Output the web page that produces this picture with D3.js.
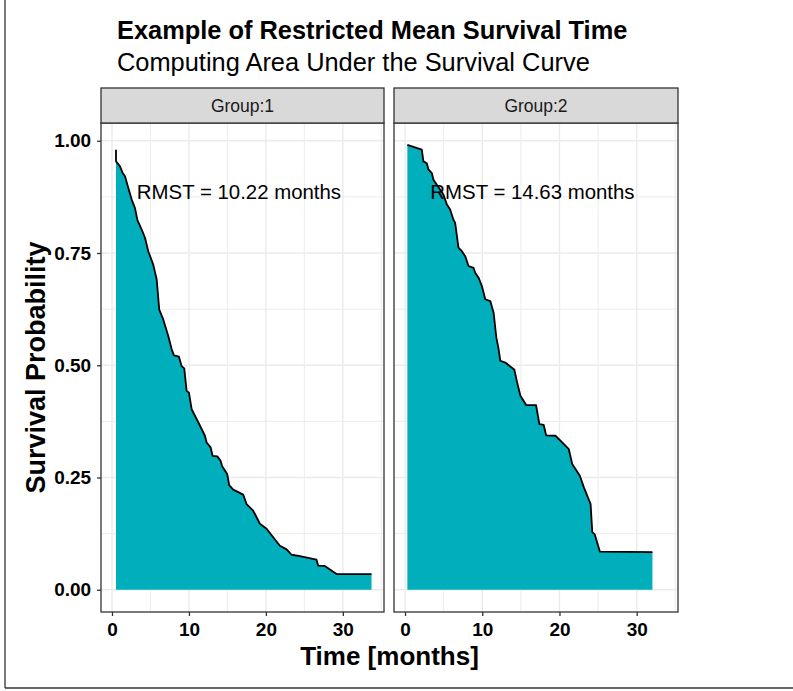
<!DOCTYPE html>
<html>
<head>
<meta charset="utf-8">
<script src="https://cdn.jsdelivr.net/npm/d3@7"></script>
<style>
  html, body { margin: 0; padding: 0; background: #fff; }
  svg { display: block; font-family: "Liberation Sans", Arial, Helvetica, sans-serif; }
</style>
</head>
<body>
<svg id="chart" width="793" height="691"></svg>
<script>
// ---- data ----
const groups = ["Group:1", "Group:2"];
const rmstLabels = ["RMST = 10.22 months", "RMST = 14.63 months"];
const timeG1 = [0.52,0.52,1.04,1.39,1.69,2.12,2.56,2.99,3.29,3.86,4.29,4.71,5.36,5.81,6.14,6.66,7.31,7.75,8.05,8.70,9.05,9.39,9.70,10.0,10.35,11.21,12.08,12.30,12.82,13.08,13.68,14.12,14.32,14.97,15.23,15.75,17.05,17.49,18.35,19.22,20.09,20.95,21.82,22.69,23.34,24.42,26.58,26.79,27.66,29.18,33.73];
const survG1 = [0.980,0.954,0.943,0.928,0.921,0.895,0.869,0.850,0.824,0.802,0.784,0.754,0.724,0.691,0.624,0.602,0.565,0.536,0.522,0.519,0.498,0.493,0.443,0.439,0.402,0.373,0.343,0.328,0.317,0.298,0.297,0.287,0.275,0.258,0.233,0.223,0.212,0.191,0.176,0.147,0.136,0.117,0.098,0.090,0.078,0.075,0.067,0.054,0.053,0.035,0.035];
const timeG2 = [0.30,2.17,2.38,2.82,3.03,3.47,3.68,4.97,5.42,5.84,6.27,6.49,6.92,7.36,7.79,8.22,8.87,9.09,9.52,9.96,10.39,11.04,11.47,11.82,12.12,12.34,12.99,14.16,14.51,14.94,15.71,16.97,17.40,17.96,18.27,19.48,20.35,21.21,21.65,22.64,23.16,24.03,24.25,24.55,25.23,32.04];
const survG2 = [0.991,0.980,0.954,0.950,0.936,0.928,0.913,0.880,0.858,0.847,0.824,0.817,0.762,0.754,0.743,0.721,0.717,0.706,0.695,0.676,0.647,0.643,0.617,0.562,0.536,0.510,0.506,0.490,0.462,0.432,0.411,0.411,0.369,0.367,0.344,0.343,0.328,0.313,0.280,0.254,0.228,0.191,0.128,0.124,0.085,0.084];
const xTicks = [0, 10, 20, 30];
const xMinor = [5, 15, 25, 35];
const yTicks = [0, 0.25, 0.5, 0.75, 1.0];
const yMinor = [0.125, 0.375, 0.625, 0.875];
const labelPos = [16.5, 0.885];

const series = [
  timeG1.map((t, i) => ({t, s: survG1[i]})),
  timeG2.map((t, i) => ({t, s: survG2[i]}))
];

// ---- layout ----
const svg = d3.select("#chart");
const panelTop = 123, panelBottom = 612;
const panels = [[101, 384], [394, 678]];
const stripTop = 88;
const fillColor = "#00AFBB";
const gridCol = "#ebebeb";
const borderCol = "#333333";

// outer frame (left and bottom)
svg.append("line").attr("x1", 5).attr("x2", 5).attr("y1", 0).attr("y2", 688)
  .attr("stroke", "#333").attr("stroke-width", 1.3);
svg.append("line").attr("x1", 5).attr("x2", 793).attr("y1", 688).attr("y2", 688)
  .attr("stroke", "#333").attr("stroke-width", 1.3);

const y = d3.scaleLinear().domain([-0.0495, 1.0395]).range([panelBottom, panelTop]);

panels.forEach(([x0, x1], gi) => {
  const x = d3.scaleLinear().domain([-1.43, 35.35]).range([x0, x1]);
  const g = svg.append("g");
  g.append("rect").attr("x", x0).attr("y", panelTop).attr("width", x1 - x0).attr("height", panelBottom - panelTop).attr("fill", "#fff");
  g.selectAll(".ymin").data(yMinor).join("line").attr("class","ymin")
    .attr("x1", x0).attr("x2", x1).attr("y1", d => y(d)).attr("y2", d => y(d))
    .attr("stroke", gridCol).attr("stroke-width", 0.9);
  g.selectAll(".xmin").data(xMinor.filter(d => x(d) < x1)).join("line").attr("class","xmin")
    .attr("y1", panelTop).attr("y2", panelBottom).attr("x1", d => x(d)).attr("x2", d => x(d))
    .attr("stroke", gridCol).attr("stroke-width", 0.9);
  g.selectAll(".ymaj").data(yTicks).join("line").attr("class","ymaj")
    .attr("x1", x0).attr("x2", x1).attr("y1", d => y(d)).attr("y2", d => y(d))
    .attr("stroke", gridCol).attr("stroke-width", 1.4);
  g.selectAll(".xmaj").data(xTicks).join("line").attr("class","xmaj")
    .attr("y1", panelTop).attr("y2", panelBottom).attr("x1", d => x(d)).attr("x2", d => x(d))
    .attr("stroke", gridCol).attr("stroke-width", 1.4);

  const data = series[gi];
  const area = d3.area().x(d => x(d.t)).y0(y(0)).y1(d => y(d.s));
  const line = d3.line().x(d => x(d.t)).y(d => y(d.s));
  g.append("path").attr("d", area(data)).attr("fill", fillColor);
  g.append("path").attr("d", line(data)).attr("fill", "none").attr("stroke", "#000").attr("stroke-width", 1.8).attr("stroke-linejoin", "round");

  g.append("text").attr("x", x(labelPos[0])).attr("y", y(labelPos[1]))
    .attr("text-anchor", "middle").attr("dominant-baseline", "central")
    .attr("font-size", 20.4).attr("fill", "#000").text(rmstLabels[gi]);

  g.append("rect").attr("x", x0).attr("y", panelTop).attr("width", x1 - x0).attr("height", panelBottom - panelTop)
    .attr("fill", "none").attr("stroke", borderCol).attr("stroke-width", 1.3);

  // strip
  g.append("rect").attr("x", x0).attr("y", stripTop).attr("width", x1 - x0).attr("height", panelTop - stripTop)
    .attr("fill", "#d9d9d9").attr("stroke", borderCol).attr("stroke-width", 1.3);
  g.append("text").attr("x", (x0 + x1) / 2).attr("y", (stripTop + panelTop) / 2)
    .attr("text-anchor", "middle").attr("dominant-baseline", "central")
    .attr("font-size", 17.5).attr("fill", "#1a1a1a").text(groups[gi]);

  // x axis
  const xa = g.append("g").attr("transform", `translate(0,${panelBottom})`)
    .call(d3.axisBottom(x).tickValues(xTicks).tickSize(4).tickFormat(d3.format("d")));
  xa.select(".domain").remove();
  xa.selectAll("line").attr("stroke", borderCol).attr("stroke-width", 1.3);
  xa.selectAll("text").attr("font-size", 19).attr("font-weight", "bold").attr("fill", "#000")
    .attr("font-family", "'Liberation Sans', Arial, sans-serif").attr("dy", "0.9em");

  if (gi === 0) {
    const ya = g.append("g").attr("transform", `translate(${x0},0)`)
      .call(d3.axisLeft(y).tickValues(yTicks).tickSize(4).tickFormat(d3.format(".2f")));
    ya.select(".domain").remove();
    ya.selectAll("line").attr("stroke", borderCol).attr("stroke-width", 1.3);
    ya.selectAll("text").attr("font-size", 19).attr("font-weight", "bold").attr("fill", "#000")
      .attr("font-family", "'Liberation Sans', Arial, sans-serif").attr("dx", "-0.15em");
  }
});

// titles
svg.append("text").attr("x", 117).attr("y", 39).attr("font-size", 25.4).attr("font-weight", "bold")
  .attr("fill", "#000").text("Example of Restricted Mean Survival Time");
svg.append("text").attr("x", 117).attr("y", 71).attr("font-size", 25.4)
  .attr("fill", "#000").text("Computing Area Under the Survival Curve");

svg.append("text").attr("x", (101 + 678) / 2).attr("y", 665).attr("text-anchor", "middle")
  .attr("font-size", 26).attr("font-weight", "bold").attr("fill", "#000").text("Time [months]");
svg.append("text").attr("transform", `translate(45,${(panelTop + panelBottom) / 2}) rotate(-90)`)
  .attr("text-anchor", "middle").attr("font-size", 27).attr("font-weight", "bold").attr("fill", "#000")
  .text("Survival Probability");
</script>
</body>
</html>
